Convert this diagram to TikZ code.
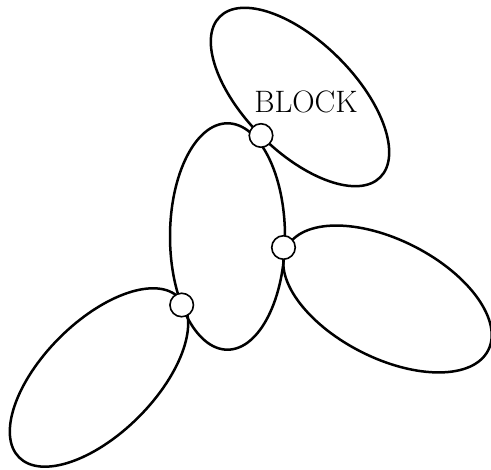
\documentclass[tikz,border=0pt]{standalone}
\usetikzlibrary{calc}
\begin{document}
\begin{tikzpicture}[x=1pt,y=1pt,
  loopline/.style={line width=2.5pt, black},
  vertex/.style={circle, draw=black, fill=white, line width=1.6pt, minimum size=23.5pt, inner sep=0pt},
  lbl/.style={font=\fontsize{31}{37}\selectfont, inner sep=0pt}]
\useasboundingbox (0,0) rectangle (491,470);
% vertices
\coordinate (A) at (261,334.5);
\coordinate (B) at (283.5,222.5);
\coordinate (C) at (181.7,165);
% centres of the loops
\coordinate (mid) at (227.5,233.5);
\coordinate (top) at (300,373);
\coordinate (rgt) at (387.5,171);
\coordinate (lft) at (99,92.5);
% shapes
\draw[loopline] (mid) ellipse [x radius=57.5pt, y radius=113.2pt];
\draw[loopline, rotate around={-45:(top)}] (top) ellipse [x radius=113.5pt, y radius=55pt];
\draw[loopline, rotate around={-27:(rgt)}] (rgt) ellipse [x radius=113pt, y radius=59pt];
\draw[loopline, rotate around={45:(lft)}] (lft) ellipse [x radius=113pt, y radius=56pt];
% vertex circles
\node[vertex] (vA) at (A) {};
\node[vertex] (vB) at (B) {};
\node[vertex] (vC) at (C) {};
% label
\node[lbl] (block) at (306,368) {BLOCK};
\end{tikzpicture}
\end{document}
